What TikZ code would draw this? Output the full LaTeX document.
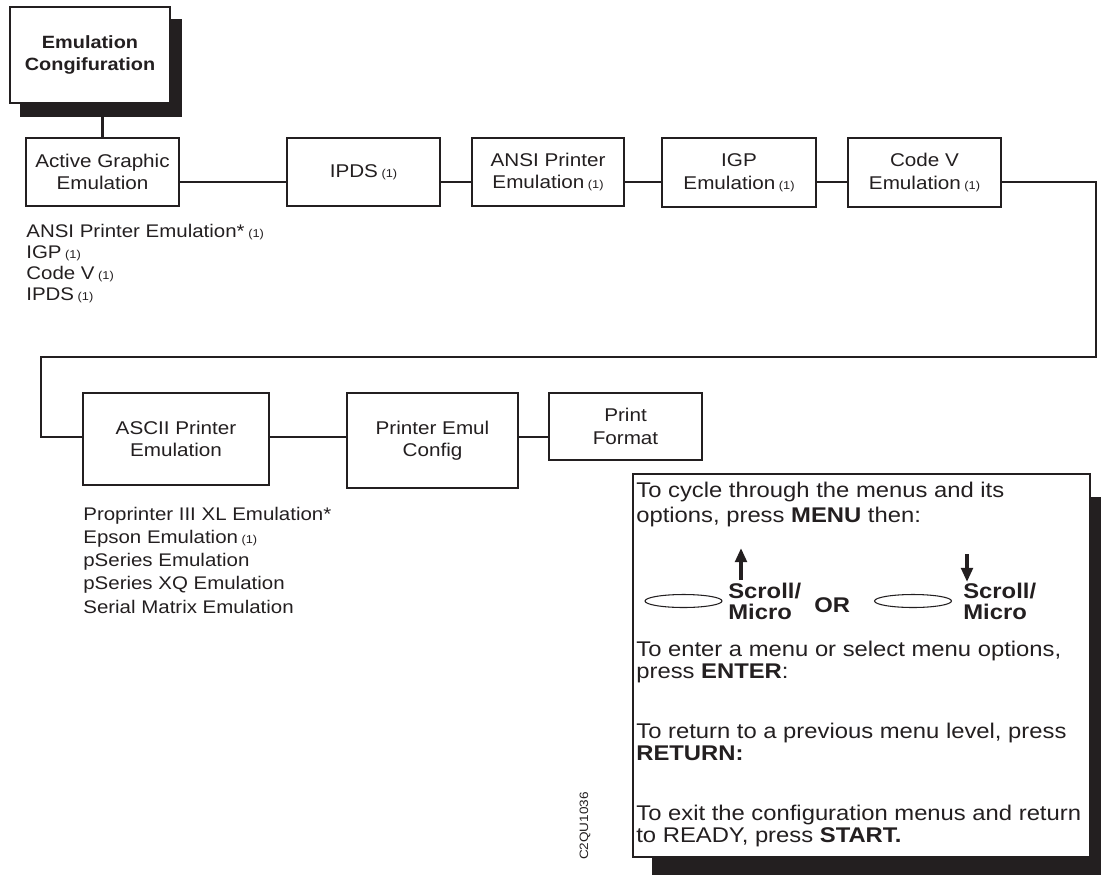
\documentclass[tikz,border=0pt]{standalone}
\usepackage{fontspec}
\setmainfont{Liberation Sans}[FakeStretch=1.12]
\usepackage{tikz}
\usetikzlibrary{positioning,arrows.meta,shapes.geometric}
\definecolor{cnegro}{HTML}{231F20}
\newcommand{\uno}{{\fontsize{6.5}{7}\selectfont\ (1)}}
\tikzset{
  caja/.style={rectangle, draw=cnegro, line width=1.2pt, fill=white, text=cnegro,
    align=center, inner sep=0pt, font=\fontsize{10.5}{12.8}\selectfont},
  cajat/.style={caja, minimum width=3.2cm, minimum height=1.92cm,
    font=\bfseries\fontsize{10.1}{12.5}\selectfont},
  sombra/.style={fill=cnegro, draw=none},
  linea/.style={draw=cnegro, line width=1.2pt},
  lista/.style={anchor=base west, align=left, inner sep=0pt, text=cnegro,
    font=\fontsize{10.4}{11.9}\selectfont},
  ayuda/.style={anchor=base west, align=left, inner sep=0pt, text=cnegro,
    font=\fontsize{12.1}{12.3}\selectfont},
  tecla/.style={anchor=base west, align=left, inner sep=0pt, text=cnegro,
    font=\bfseries\fontsize{12.1}{11.8}\selectfont},
  boton/.style={ellipse, draw=cnegro, line width=0.6pt, inner sep=0pt,
    minimum width=1.54cm, minimum height=0.26cm},
  flecha/.style={-{Triangle[length=8pt,width=6.5pt]}, line width=2pt, draw=cnegro},
}

\begin{document}
\begin{tikzpicture}[x=0.02cm, y=-0.02cm]
  \useasboundingbox (0,0) rectangle (1101,875);
  \coordinate (r1) at (0,182);
  \coordinate (r2) at (0,437);

  % menu de arriba
  \fill[sombra] (20,19) rectangle (182,117);
  \node[cajat] (cfg) at (90,55) {Emulation\\Congifuration};

  \node[caja, minimum width=3.06cm, minimum height=1.36cm] (agr) at (102.5,172) {Active Graphic\\Emulation};
  \node[caja, minimum width=3.06cm, minimum height=1.36cm] (ipds) at (363.5,172) {IPDS\uno};
  \node[caja, minimum width=3.04cm, minimum height=1.36cm] (ansi) at (548,172) {ANSI Printer\\Emulation\uno};
  \node[caja, minimum width=3.08cm, minimum height=1.38cm] (igp) at (739,172.5) {IGP\\Emulation\uno};
  \node[caja, minimum width=3.06cm, minimum height=1.38cm] (codev) at (924.5,172.5) {Code V\\Emulation\uno};

  \draw[linea] (agr.north) -- (agr.north |- cfg.south);
  \draw[linea] (agr.east |- r1) -- (ipds.west |- r1);
  \draw[linea] (ipds.east |- r1) -- (ansi.west |- r1);
  \draw[linea] (ansi.east |- r1) -- (igp.west |- r1);
  \draw[linea] (igp.east |- r1) -- (codev.west |- r1);

  % base = ultima linea
  \node[lista] (opc1) at (26,300) {ANSI Printer Emulation*\uno\\IGP\uno\\Code V\uno\\IPDS\uno};

  % segunda fila
  \node[caja, minimum width=3.72cm, minimum height=1.84cm] (ascii) at (176,439) {ASCII Printer\\Emulation};
  \node[caja, minimum width=3.42cm, minimum height=1.9cm] (pec) at (432.5,440.5) {Printer Emul\\Config};
  \node[caja, minimum width=3.06cm, minimum height=1.34cm] (pfmt) at (625.5,426.5) {Print\\Format};

  \coordinate (vuelta) at (1096,357);
  \coordinate (baja) at (41,357);
  \draw[linea] (codev.east |- r1) -| (vuelta) -- (baja) |- (ascii.west |- r2);
  \draw[linea] (ascii.east |- r2) -- (pec.west |- r2);
  \draw[linea] (pec.east |- r2) -- (pfmt.west |- r2);

  \node[lista, font=\fontsize{10.4}{13.2}\selectfont] (opc2) at (83,613)
    {Proprinter III XL Emulation*\\Epson Emulation\uno\\pSeries Emulation\\pSeries XQ Emulation\\Serial Matrix Emulation};

  % cuadro de ayuda
  \fill[sombra] (652,497) rectangle (1101,875);
  \draw[cnegro, line width=0.6pt, fill=white] (633,474) rectangle (1090,857);
  \node[ayuda, font=\fontsize{12.1}{14.2}\selectfont] (p1) at (636,522)
    {To cycle through the menus and its\\options, press \textbf{MENU} then:};
  \node[boton] (bt1) at (683.5,601) {};
  \node[tecla] (sc1) at (728,619) {Scroll/\\Micro};
  \node[tecla] (or) at (814,612) {OR};
  \node[boton] (bt2) at (913,601) {};
  \node[tecla] (sc2) at (963,619) {Scroll/\\Micro};
  \coordinate (up0) at (741,580);
  \coordinate (up1) at (741,548);
  \coordinate (dn0) at (967,554);
  \coordinate (dn1) at (967,582);
  \draw[flecha] (up0) -- (up1);
  \draw[flecha] (dn0) -- (dn1);
  \node[ayuda] (p2) at (636,678) {To enter a menu or select menu options,\\press \textbf{ENTER}:};
  \node[ayuda] (p3) at (636,760) {To return to a previous menu level, press\\\textbf{RETURN:}};
  \node[ayuda] (p4) at (636,842) {To exit the configuration menus and return\\to READY, press \textbf{START.}};

  \node[rotate=90, text=cnegro, inner sep=0pt, font=\fontsize{6.9}{8}\selectfont] (cod) at (585,826) {C2QU1036};
\end{tikzpicture}
\end{document}
